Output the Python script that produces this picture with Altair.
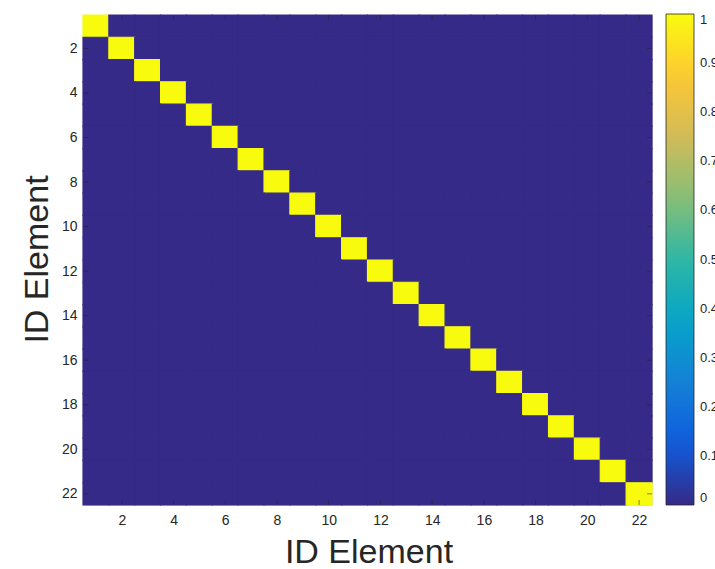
import altair as alt
import pandas as pd

# 22 x 22 correlation-style matrix (1 on the diagonal, 0 elsewhere)
ids = [1, 2, 3, 4, 5, 6, 7, 8, 9, 10, 11, 12, 13, 14, 15, 16, 17, 18, 19, 20, 21, 22]
matrix = [
    [1, 0, 0, 0, 0, 0, 0, 0, 0, 0, 0, 0, 0, 0, 0, 0, 0, 0, 0, 0, 0, 0],
    [0, 1, 0, 0, 0, 0, 0, 0, 0, 0, 0, 0, 0, 0, 0, 0, 0, 0, 0, 0, 0, 0],
    [0, 0, 1, 0, 0, 0, 0, 0, 0, 0, 0, 0, 0, 0, 0, 0, 0, 0, 0, 0, 0, 0],
    [0, 0, 0, 1, 0, 0, 0, 0, 0, 0, 0, 0, 0, 0, 0, 0, 0, 0, 0, 0, 0, 0],
    [0, 0, 0, 0, 1, 0, 0, 0, 0, 0, 0, 0, 0, 0, 0, 0, 0, 0, 0, 0, 0, 0],
    [0, 0, 0, 0, 0, 1, 0, 0, 0, 0, 0, 0, 0, 0, 0, 0, 0, 0, 0, 0, 0, 0],
    [0, 0, 0, 0, 0, 0, 1, 0, 0, 0, 0, 0, 0, 0, 0, 0, 0, 0, 0, 0, 0, 0],
    [0, 0, 0, 0, 0, 0, 0, 1, 0, 0, 0, 0, 0, 0, 0, 0, 0, 0, 0, 0, 0, 0],
    [0, 0, 0, 0, 0, 0, 0, 0, 1, 0, 0, 0, 0, 0, 0, 0, 0, 0, 0, 0, 0, 0],
    [0, 0, 0, 0, 0, 0, 0, 0, 0, 1, 0, 0, 0, 0, 0, 0, 0, 0, 0, 0, 0, 0],
    [0, 0, 0, 0, 0, 0, 0, 0, 0, 0, 1, 0, 0, 0, 0, 0, 0, 0, 0, 0, 0, 0],
    [0, 0, 0, 0, 0, 0, 0, 0, 0, 0, 0, 1, 0, 0, 0, 0, 0, 0, 0, 0, 0, 0],
    [0, 0, 0, 0, 0, 0, 0, 0, 0, 0, 0, 0, 1, 0, 0, 0, 0, 0, 0, 0, 0, 0],
    [0, 0, 0, 0, 0, 0, 0, 0, 0, 0, 0, 0, 0, 1, 0, 0, 0, 0, 0, 0, 0, 0],
    [0, 0, 0, 0, 0, 0, 0, 0, 0, 0, 0, 0, 0, 0, 1, 0, 0, 0, 0, 0, 0, 0],
    [0, 0, 0, 0, 0, 0, 0, 0, 0, 0, 0, 0, 0, 0, 0, 1, 0, 0, 0, 0, 0, 0],
    [0, 0, 0, 0, 0, 0, 0, 0, 0, 0, 0, 0, 0, 0, 0, 0, 1, 0, 0, 0, 0, 0],
    [0, 0, 0, 0, 0, 0, 0, 0, 0, 0, 0, 0, 0, 0, 0, 0, 0, 1, 0, 0, 0, 0],
    [0, 0, 0, 0, 0, 0, 0, 0, 0, 0, 0, 0, 0, 0, 0, 0, 0, 0, 1, 0, 0, 0],
    [0, 0, 0, 0, 0, 0, 0, 0, 0, 0, 0, 0, 0, 0, 0, 0, 0, 0, 0, 1, 0, 0],
    [0, 0, 0, 0, 0, 0, 0, 0, 0, 0, 0, 0, 0, 0, 0, 0, 0, 0, 0, 0, 1, 0],
    [0, 0, 0, 0, 0, 0, 0, 0, 0, 0, 0, 0, 0, 0, 0, 0, 0, 0, 0, 0, 0, 1],
]
tick_values = [2, 4, 6, 8, 10, 12, 14, 16, 18, 20, 22]
colorbar_values = [0, 0.1, 0.2, 0.3, 0.4, 0.5, 0.6, 0.7, 0.8, 0.9, 1]
parula = ["#352a87", "#0f5cdd", "#1481d6", "#06a4ca", "#2eb7a4",
          "#87bf77", "#d1bb59", "#fec832", "#f9fb0e"]

cells = pd.DataFrame(
    [{"row": r, "col": c, "value": matrix[r - 1][c - 1]} for r in ids for c in ids]
)
ticks = pd.DataFrame({"t": tick_values})

FONT = "Liberation Sans"
INK = "#262626"
W, H = 569, 490

xscale = alt.Scale(domain=[0.5, 22.5], nice=False, zero=False)
yscale = alt.Scale(domain=[0.5, 22.5], nice=False, zero=False, reverse=True)

x_axis = alt.Axis(values=tick_values, ticks=False, domain=False, grid=False,
                  labelFontSize=14, labelPadding=8, labelColor=INK, labelFont=FONT,
                  title="ID Element", titleFont=FONT, titleFontSize=34,
                  titleFontWeight="normal", titleColor=INK,
                  titleX=W / 2 + 1, titleY=57, titleBaseline="alphabetic",
                  titleAlign="center")
y_axis = alt.Axis(values=tick_values, ticks=False, domain=False, grid=False,
                  labelFontSize=14, labelPadding=6, labelColor=INK, labelFont=FONT,
                  title="ID Element", titleFont=FONT, titleFontSize=34,
                  titleFontWeight="normal", titleColor=INK,
                  titleX=-36, titleY=H / 2 - 1, titleAngle=270,
                  titleBaseline="alphabetic", titleAlign="center")

color_scale = alt.Scale(domain=[0, 1], range=parula, type="linear", interpolate="rgb")

heat = alt.Chart(cells).transform_calculate(
    x0="datum.col - 0.5", x1="datum.col + 0.5",
    y0="datum.row - 0.5", y1="datum.row + 0.5",
).mark_rect(strokeWidth=1.2, opacity=1, fillOpacity=1, strokeOpacity=1).encode(
    x=alt.X("x0:Q", scale=xscale, axis=x_axis),
    x2="x1:Q",
    y=alt.Y("y0:Q", scale=yscale, axis=y_axis),
    y2="y1:Q",
    stroke=alt.condition("datum.value >= 0.5", alt.value(parula[-1]), alt.value(parula[0])),
    color=alt.Color(
        "value:Q",
        scale=color_scale,
        legend=alt.Legend(
            title=None, orient="none", legendX=W + 14, legendY=-1,
            direction="vertical", gradientLength=H + 1, gradientThickness=28,
            gradientStrokeColor=INK, gradientStrokeWidth=0.8,
            values=colorbar_values, format="~g", labelFontSize=13,
            labelFont=FONT, labelColor=INK, labelOffset=6,
            labelBaseline="middle", labelOverlap=False,
        ),
    ),
)

tick_style = dict(color=INK, thickness=0.8, size=5)
bottom_ticks = alt.Chart(ticks).mark_tick(orient="vertical", **tick_style).encode(
    x=alt.X("t:Q", scale=xscale, axis=x_axis), y=alt.value(H - 2.5))
top_ticks = alt.Chart(ticks).mark_tick(orient="vertical", **tick_style).encode(
    x=alt.X("t:Q", scale=xscale, axis=x_axis), y=alt.value(2.5))
left_ticks = alt.Chart(ticks).mark_tick(orient="horizontal", **tick_style).encode(
    y=alt.Y("t:Q", scale=yscale, axis=y_axis), x=alt.value(2.5))
right_ticks = alt.Chart(ticks).mark_tick(orient="horizontal", **tick_style).encode(
    y=alt.Y("t:Q", scale=yscale, axis=y_axis), x=alt.value(W - 2.5))

chart = alt.layer(heat, bottom_ticks, top_ticks, left_ticks, right_ticks).properties(
    width=W, height=H,
    autosize=alt.AutoSizeParams(type="none"),
    padding={"left": 83, "top": 15, "right": 715 - 83 - W, "bottom": 569 - 15 - H},
).configure_view(stroke=INK, strokeWidth=1, fill="#352a87").configure(background="white")

chart.save("out.html", embed_options={"renderer": "svg", "actions": False})
